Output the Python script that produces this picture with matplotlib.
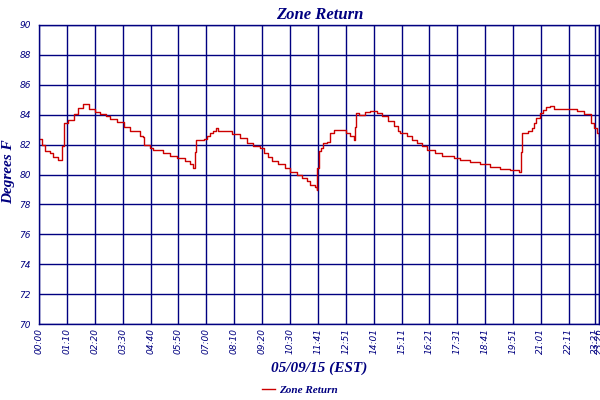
import matplotlib.pyplot as plt

# time of day in minutes after midnight, and zone return temperature (deg F)
minutes = [0, 6, 14, 27, 34, 48, 57, 58, 62, 72, 87, 98, 111, 121, 125, 140, 153, 167,
           178, 195, 213, 228, 253, 260, 264, 278, 287, 312, 329, 346, 367, 379, 387,
           392, 393, 413, 421, 429, 438, 444, 450, 475, 484, 505, 522, 538, 555, 564,
           576, 585, 601, 618, 631, 648, 660, 673, 681, 694, 698, 699, 703, 708, 713,
           723, 731, 740, 765, 771, 782, 792, 795, 797, 803, 815, 819, 832, 849, 861,
           878, 891, 903, 907, 924, 937, 949, 962, 975, 995, 1012, 1042, 1058, 1084,
           1109, 1134, 1159, 1184, 1205, 1211, 1214, 1230, 1239, 1243, 1250, 1258,
           1266, 1275, 1285, 1293, 1348, 1352, 1369, 1380, 1387, 1395, 1403, 1408]
temps = [82.4, 81.95, 81.55, 81.45, 81.2, 81.0, 81.0, 81.9, 83.45, 83.67, 84.05, 84.45,
         84.7, 84.7, 84.38, 84.18, 84.05, 83.9, 83.7, 83.5, 83.2, 82.9, 82.6, 82.5,
         81.95, 81.8, 81.67, 81.45, 81.27, 81.1, 80.9, 80.67, 80.45, 81.5, 82.33,
         82.38, 82.55, 82.78, 82.9, 83.1, 82.9, 82.9, 82.73, 82.45, 82.1, 81.9, 81.8,
         81.45, 81.2, 80.9, 80.73, 80.45, 80.2, 80.0, 79.78, 79.55, 79.33, 79.18,
         78.95, 80.45, 81.6, 81.8, 82.1, 82.2, 82.78, 83.0, 83.0, 82.78, 82.55, 82.3,
         83.2, 84.1, 84.0, 84.0, 84.15, 84.28, 84.1, 83.9, 83.55, 83.27, 82.9, 82.78,
         82.55, 82.33, 82.1, 81.9, 81.67, 81.45, 81.27, 81.1, 80.95, 80.82, 80.67,
         80.5, 80.38, 80.28, 80.15, 81.5, 82.78, 82.9, 83.1, 83.45, 83.78, 84.1,
         84.33, 84.5, 84.6, 84.4, 84.4, 84.28, 84.07, 84.07, 83.45, 83.1, 82.78, 82.6]

tick_pos = [0, 70, 140, 210, 280, 350, 420, 490, 560, 630, 701, 771, 841, 911, 981,
            1051, 1121, 1191, 1261, 1331, 1398, 1408]
tick_labels = ['00:00', '01:10', '02:20', '03:30', '04:40', '05:50', '07:00', '08:10',
               '09:20', '10:30', '11:41', '12:51', '14:01', '15:11', '16:21', '17:31',
               '18:41', '19:51', '21:01', '22:11', '23:21', '23:26']
y_ticks = [70, 72, 74, 76, 78, 80, 82, 84, 86, 88, 90]

navy = '#000080'
red = '#cc0000'

fig = plt.figure(figsize=(6, 4), dpi=100)
ax = fig.add_axes([0.0655, 0.19, 0.9333, 0.7475])

ax.plot(minutes, temps, color=red, lw=1.0, drawstyle='steps-post', label='Zone Return')

ax.set_xlim(0, 1408)
ax.set_ylim(70, 90)
ax.set_xticks(tick_pos)
ax.set_xticklabels(tick_labels, rotation=90)
ax.set_yticks(y_ticks)
ax.grid(True, color=navy, lw=1.0)
ax.set_axisbelow(True)
for s in ax.spines.values():
    s.set_color(navy)
    s.set_linewidth(1.0)
ax.tick_params(length=0, colors=navy, labelsize=6.5)
ax.tick_params(axis='y', pad=6)
ax.tick_params(axis='x', pad=3)
for lab in ax.get_xticklabels() + ax.get_yticklabels():
    lab.set_fontstyle('italic')

ax.set_title('Zone Return', fontsize=12, color=navy, fontweight='bold',
             fontstyle='italic', family='Liberation Serif', pad=4)
ax.set_xlabel('05/09/15 (EST)', fontsize=11, color=navy, fontweight='bold',
              fontstyle='italic', family='Liberation Serif', labelpad=5)
ax.set_ylabel('Degrees F', fontsize=11, color=navy, fontweight='bold',
              fontstyle='italic', family='Liberation Serif')
ax.yaxis.set_label_coords(-0.044, 0.508)

leg = fig.legend(loc='center', bbox_to_anchor=(0.5, 0.025), frameon=False,
                 handlelength=1.2, handletextpad=0.4,
                 prop={'family': 'Liberation Serif', 'weight': 'bold',
                       'style': 'italic', 'size': 8})
for t in leg.get_texts():
    t.set_color(navy)

fig.savefig('out.png', dpi=100)
